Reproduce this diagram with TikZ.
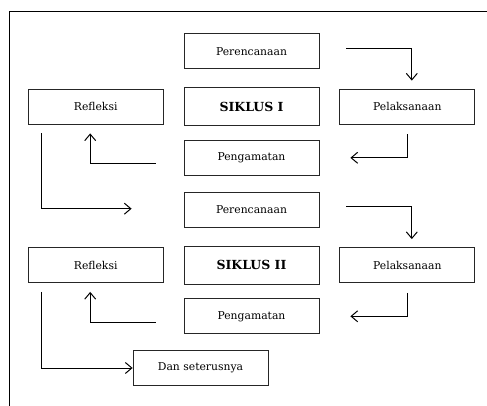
\documentclass[tikz,border=0pt]{standalone}
\usepackage{fontspec}
\setmainfont{DejaVu Serif}
\usepackage{tikz}
\usetikzlibrary{arrows.meta,positioning}

\begin{document}
\begin{tikzpicture}[x=1pt,y=-1pt,
		box/.style={draw=black!85,line width=0.8pt,minimum width=135pt,minimum height=35pt,inner sep=0pt,font=\fontsize{10.8}{13}\selectfont},
		judul/.style={box,minimum height=38pt,font=\fontsize{12.5}{14}\selectfont\bfseries},
		panah/.style={line width=1pt,-{Straight Barb[length=6.5pt,width=11pt]}}]
			\useasboundingbox (0,0) rectangle (487,406);
			\draw[line width=0.8pt] (9,420) -- (9,11.5) -- (500,11.5);
			\foreach \n/\s/\y in {1/I/106.5,2/II/265}{
				\node[judul] (sik\n) at (251.5,\y) {SIKLUS \s};
				\node[box,above=18pt of sik\n] (per\n) {Perencanaan};
				\node[box,below=14pt of sik\n] (pen\n) {Pengamatan};
				\node[box,left=20pt of sik\n] (ref\n) {Refleksi};
				\node[box,right=20pt of sik\n] (pel\n) {Pelaksanaan};
				\draw[panah] ([xshift=27pt,yshift=3pt]per\n.east) -| ([xshift=4.5pt,yshift=8pt]pel\n.north);
				\draw[panah] ([yshift=-10pt]pel\n.south) |- ([xshift=31pt]pen\n.east);
				\draw[panah] ([xshift=-28pt,yshift=-6pt]pen\n.west) -| ([xshift=-5.5pt,yshift=-9pt]ref\n.south);
			}
			\node[box] (dan) at (200.5,368) {Dan seterusnya};
			\draw[panah] ([xshift=14pt,yshift=-9pt]ref1.south west) |- ([xshift=-52pt,yshift=1pt]per2.west);
			\draw[panah] ([xshift=14pt,yshift=-9pt]ref2.south west) |- (dan.west);
		\end{tikzpicture}
\end{document}
